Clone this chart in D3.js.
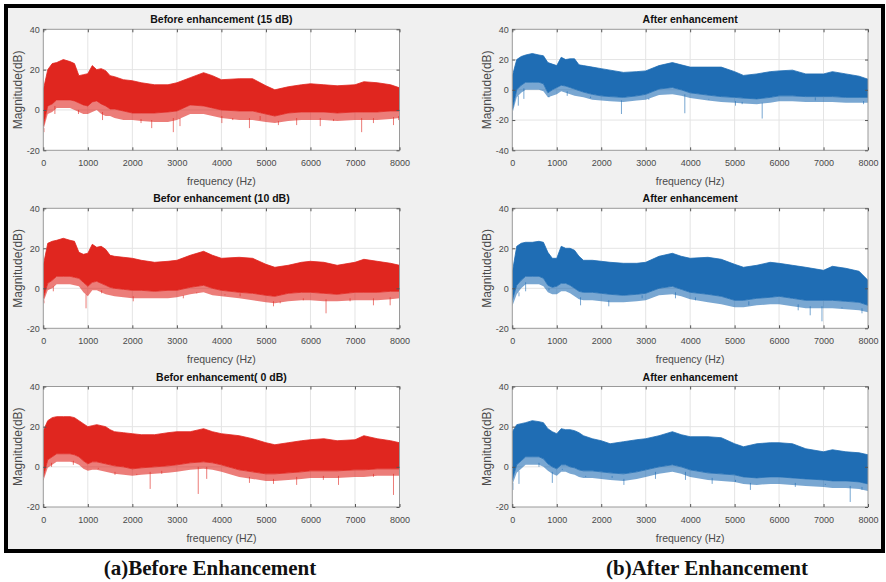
<!DOCTYPE html>
<html>
<head>
<meta charset="UTF-8">
<title>Spectrum before / after enhancement</title>
<script src="https://d3js.org/d3.v7.min.js"></script>
<style>
  body { margin: 0; background: #fff; }
  .tick text { font-family: "Liberation Sans", Arial, sans-serif; font-size: 9px; fill: #4a4a4a; }
  .tick line { stroke: #555; }
  .domain { stroke: none; }
  .title { font-family: "Liberation Sans", Arial, sans-serif; font-size: 10.5px; font-weight: bold; fill: #111; }
  .xlab, .ylab { font-family: "Liberation Sans", Arial, sans-serif; fill: #4a4a4a; }
  .caption { font-family: "Liberation Serif", "Times New Roman", serif; font-size: 21px; font-weight: bold; fill: #111; }
</style>
</head>
<body>
<script>
// frequency breakpoints (Hz) at which the band edges were read
var freqGrid = [0,100,200,300,450,600,700,800,900,1000,1100,1200,1300,1400,1500,1600,1800,2000,2200,2500,
                2800,3000,3300,3600,3800,4000,4400,4700,5000,5200,5500,5800,6000,6300,6600,7000,7200,7500,7800,8000];
var xTicks = [0,1000,2000,3000,4000,5000,6000,7000,8000];
var yTicksA = [-20,0,20,40];
var yTicksB = [-40,-20,0,20,40];
var titles = ["Before enhancement (15 dB)", "After enhancement", "Befor enhancement (10 dB)", "After enhancement",
              "Befor enhancement( 0 dB)", "After enhancement"];
var xLabels = ["frequency (Hz)", "frequency (Hz)", "frequency (Hz)", "frequency (Hz)", "frequency (HZ)", "frequency (Hz)"];
var captions = ["(a)Before Enhancement", "(b)After Enhancement"];

// upper edge / lower edge of the dense band / lower edge of the lighter fringe (dB)
var before15Hi = [10,20,23,23.5,25,24,23,17,17.5,18,22,20,20.5,19.5,17,16.5,15,14.5,13.5,12.5,12.5,13.5,16,18.5,17,15,15.5,15.5,12,10,11.5,12.5,13,12.5,12,12.5,14,13.5,12.5,11];
var before15Lo = [-8,2,3,5,5,5,4.5,3.5,2.5,2,4,4.5,3,2,0.5,0.5,-0.5,-1.5,-1.5,-1.5,-1,-0.5,2.5,2,1,0,-0.5,-0.5,-2,-3,-1.5,-1,-1,-1,-1.5,-1,-1,-1,-0.5,-0.5];
var before15Floor = [-10,-2,-1,1,1,1,0,-1,-2,-2,-1,0,-2,-3,-3,-4,-5,-5,-5.5,-6,-6,-5,-2,-2,-3,-4,-5,-5,-6,-6.5,-5.5,-5,-5,-5,-5.5,-5,-5,-5,-4.5,-4];
var after15Hi = [9,20,22,23,24,23,22.5,18,17,16,21.5,20,20.5,20.5,16.5,16,15,14,13,11.5,12,12.5,16,18,16.5,15,15,15,12,9.5,10.5,12,12.5,13,10.5,10.5,12,10.5,9,7];
var after15Lo = [-13,0,3,5,5,5,4,-2,0,1.5,3,2.5,1.5,0.5,-0.5,-1.5,-3,-4,-4.5,-5,-4,-3,0.5,1.5,0,-2,-3.5,-4.5,-5,-5.5,-6,-5,-4,-4,-4.5,-4.5,-4.5,-5,-5,-5];
var after15Floor = [-16,-5,-2,0,0,0,-1,-5,-4,-3,-1,-2,-3,-4,-4.5,-5,-6.5,-7,-7.5,-8,-7,-6.5,-3.5,-3,-4,-5.5,-7,-8,-8.5,-9,-9.5,-8.5,-7.5,-7.5,-8,-8,-8,-8.5,-8.5,-8.5];
var before10Hi = [11.5,22.5,23.5,24,25,24,23.5,18,17,17.5,22,20.5,21,19.5,16.5,16,15.5,15,14,13,13.5,14,16.5,18.5,16.5,15,15.5,15,12,10.5,11.5,13,13.5,13,11.5,13,14.5,13.5,12.5,11.5];
var before10Lo = [-5,2.5,4,6,6,6,5.5,5,3,1,3,3.5,2.5,1.5,0.5,0,-0.5,-1,-1,-1.5,-1,-1,0.5,1.5,0,-1,-2,-2.5,-3.5,-4,-2.5,-2,-2,-2.5,-3,-2,-2,-2,-1.5,-1.5];
var before10Floor = [-7,-1,0,2,2,2,1.5,1,-2,-4,-1,-1,-2,-3,-3.5,-4,-4.5,-5,-5,-5,-5,-4.5,-3,-2,-3.5,-4,-5,-6,-7,-7.5,-6.5,-6,-6,-6.5,-6.5,-6,-6,-6,-5.5,-5];
var after10Hi = [8,21,22.5,23,23,23.5,23,18,15,15,21,20,20,19,16,14,14,13.5,13,12.5,12.5,13,16,17.5,16,15,15.5,14.5,12,10.5,11.5,13,12.5,11.5,10.5,9,11,10,8.5,4];
var after10Lo = [-6,1.5,4,6,6,6,5,1.5,0.5,1,2.5,2.5,1.5,0,-1.5,-2,-2,-2.5,-3,-3.5,-3,-2.5,0,1,-0.5,-2,-3,-4,-6,-6,-5,-4.5,-4,-5,-6,-6,-6,-6.5,-7,-8.5];
var after10Floor = [-9,-3,0,2,2,2,1,-2,-3,-3,-1.5,-1.5,-2.5,-4,-5.5,-6,-6,-6.5,-7,-7,-6.5,-6,-3.5,-3,-4,-5.5,-7,-8,-9.5,-9.5,-8.5,-8,-8,-9,-10,-10,-10,-10.5,-11,-12];
var before0Hi = [18,23,24.5,25,25,25,24.5,23,21.5,20,20.5,21,20.5,20,18.5,17.5,17,16.5,16,16,17,17.5,17.5,19,17.5,16.5,15.5,14,12,11,12,13,13.5,14,13,13.5,15.5,14,13,12];
var before0Lo = [-5,3.5,5,6.5,6.5,6.5,6,5,3,1.5,2.5,2.5,2,1.5,1,0.5,0,-1,-0.5,0,0.5,1,2,2.5,2,1,-1.5,-2.5,-3.5,-3.5,-3,-2.5,-2,-2,-2,-1.5,-1.5,-1,-1,-1];
var before0Floor = [-7,-0.5,1,2.5,2.5,2.5,2,1,-1,-2,-1.5,-1.5,-2,-2.5,-3,-3.5,-4,-4.5,-4,-3.5,-3,-2.5,-1.5,-1,-1.5,-2.5,-5,-6,-7,-7,-6.5,-6,-5.5,-5.5,-5.5,-5,-5,-4.5,-4.5,-4.5];
var after0Hi = [17.5,21,21.5,22,23,22.5,22,19,17.5,16.5,19,18.5,18.5,18,17,15.5,14,13,11.5,12.5,13.5,14,15.5,17.5,16,15,15,14.5,11.5,10,11.5,12,12,11.5,9,7.5,8.5,7.5,7,6];
var after0Lo = [-6.5,1,3,5,5,5,4,1.5,0,-1,1,1,0,-0.5,-1.5,-2,-2,-2.5,-3,-3.5,-2.5,-1.5,0,1,0,-1.5,-3,-3.5,-4,-5,-5.5,-5,-5,-5.5,-6,-6.5,-7,-7,-7.5,-8.5];
var after0Floor = [-9,-3,-1,1,1,1,0,-2,-3.5,-4.5,-2.5,-2.5,-3.5,-4,-5,-5.5,-5.5,-6,-6.5,-7,-6,-5,-3.5,-2.5,-3.5,-5,-6.5,-7,-7.5,-8.5,-9,-8.5,-8.5,-9,-9.5,-10,-10.5,-10.5,-11,-12];

// isolated downward spikes [Hz, dB]
var before15Dips = [[15,-11],[260,-2],[790,-2],[1330,-5],[2195,-6.5],[2435,-9],[2920,-11],[3070,-8],[4010,-6.5],[4255,-5],
                    [4630,-9],[4870,-3],[5280,-7.5],[5690,-7.5],[6220,-8],[6520,-5.5],[7150,-11],[7415,-6.5],[7865,-7.5],[7980,-5]];
var after15Dips = [[0,-20.5],[135,-10.5],[260,-6],[825,-5],[1235,-4],[1760,-4.5],[2455,-16],[3070,-6.5],[3880,-15.5],[4420,-6.5],
                   [5020,-10.5],[5170,-9.5],[5620,-19],[6290,-6.5],[6815,-5],[7415,-7.5],[7900,-9.5]];
var before10Dips = [[15,-7.5],[225,-1.5],[960,-10],[1310,-2.5],[2020,-6.5],[2320,-4],[3145,-5],[3445,-2.5],[4080,-3.5],[4420,-2.5],
                    [5170,-9],[5320,-7.5],[5840,-6],[6350,-12.5],[6890,-6.5],[7415,-8.5],[7790,-8.5]];
var after10Dips = [[15,-8],[150,-4],[300,-1.5],[825,0],[1535,-8.5],[2170,-9],[2920,-3.5],[3670,-5],[4120,-6],[5020,-8.5],
                   [5320,-6.5],[6430,-11],[6700,-13.5],[6965,-16.5],[7415,-10],[7865,-12.5]];
var before0Dips = [[0,-6.5],[185,0],[675,1],[1235,-1],[1610,-4],[2100,-4],[2400,-11],[2660,-3.5],[3480,-13.5],[3670,-6],
                   [4230,-4],[4630,-8],[5170,-8.5],[5690,-9],[6290,-6.5],[6630,-9],[7415,-5],[7865,-14]];
var after0Dips = [[15,-11.5],[150,-8.5],[600,0],[900,-8],[1125,-1],[1650,-5],[2245,-4.5],[2510,-9],[3220,-6],[3895,-6.5],
                  [4495,-8.5],[5020,-7.5],[5355,-11.5],[5920,-7.5],[6365,-10],[7040,-8.5],[7600,-17.5],[7865,-11.5]];

var red = "#e0261f", blue = "#1f6db4";

var panels = [
  {hi: before15Hi, lo: before15Lo, floor: before15Floor, dips: before15Dips, color: red,  yDom: [-20,40], yTicks: yTicksA},
  {hi: after15Hi,  lo: after15Lo,  floor: after15Floor,  dips: after15Dips,  color: blue, yDom: [-40,40], yTicks: yTicksB},
  {hi: before10Hi, lo: before10Lo, floor: before10Floor, dips: before10Dips, color: red,  yDom: [-20,40], yTicks: yTicksA},
  {hi: after10Hi,  lo: after10Lo,  floor: after10Floor,  dips: after10Dips,  color: blue, yDom: [-20,40], yTicks: yTicksA},
  {hi: before0Hi,  lo: before0Lo,  floor: before0Floor,  dips: before0Dips,  color: red,  yDom: [-20,40], yTicks: yTicksA},
  {hi: after0Hi,   lo: after0Lo,   floor: after0Floor,   dips: after0Dips,   color: blue, yDom: [-20,40], yTicks: yTicksA}
];

var colX = [[43.3, 399.5], [512.3, 868]];
var rowY = [[29.3, 150.3], [208.3, 328.3], [386.5, 507]];

var svg = d3.select("body").append("svg")
    .attr("width", 886)
    .attr("height", 582);

// figure frame
svg.append("rect")
    .attr("x", 6).attr("y", 6).attr("width", 877).attr("height", 545)
    .attr("fill", "#f0f0f0").attr("stroke", "#000").attr("stroke-width", 4);

panels.forEach(function(p, k) {
  var c = k % 2, r = Math.floor(k / 2);
  var x0 = colX[c][0], x1 = colX[c][1], y0 = rowY[r][0], y1 = rowY[r][1];

  var x = d3.scaleLinear().domain([0, 8000]).range([x0, x1]);
  var y = d3.scaleLinear().domain(p.yDom).range([y1, y0]);

  var g = svg.append("g");

  g.append("rect")
      .attr("x", x0).attr("y", y0).attr("width", x1 - x0).attr("height", y1 - y0)
      .attr("fill", "#fff");

  // grid
  g.selectAll(".gx").data(xTicks.slice(1, -1)).enter().append("line")
      .attr("x1", function(d) { return x(d); }).attr("x2", function(d) { return x(d); })
      .attr("y1", y0).attr("y2", y1)
      .attr("stroke", "#e4e4e4").attr("stroke-width", 1);
  g.selectAll(".gy").data(p.yTicks.slice(1, -1)).enter().append("line")
      .attr("y1", function(d) { return y(d); }).attr("y2", function(d) { return y(d); })
      .attr("x1", x0).attr("x2", x1)
      .attr("stroke", "#e4e4e4").attr("stroke-width", 1);

  var clipId = "clip" + k;
  g.append("clipPath").attr("id", clipId).append("rect")
      .attr("x", x0).attr("y", y0).attr("width", x1 - x0).attr("height", y1 - y0);

  var band = freqGrid.map(function(f, i) { return {f: f, hi: p.hi[i], lo: p.lo[i], fl: p.floor[i]}; });

  var core = d3.area()
      .x(function(d) { return x(d.f); })
      .y0(function(d) { return y(d.lo); })
      .y1(function(d) { return y(d.hi); });
  var fringe = d3.area()
      .x(function(d) { return x(d.f); })
      .y0(function(d) { return y(d.fl); })
      .y1(function(d) { return y(d.lo); });

  var plot = g.append("g").attr("clip-path", "url(#" + clipId + ")");

  plot.selectAll(".dip").data(p.dips).enter().append("line")
      .attr("x1", function(d) { return x(d[0]); })
      .attr("x2", function(d) { return x(d[0]); })
      .attr("y1", function(d) {
        var i = d3.minIndex(freqGrid, function(gf) { return Math.abs(gf - d[0]); });
        return y(p.floor[i] + 1);
      })
      .attr("y2", function(d) { return y(d[1]); })
      .attr("stroke", p.color).attr("stroke-width", 1).attr("opacity", 0.6);

  plot.append("path")
      .datum(band)
      .attr("d", fringe)
      .attr("fill", p.color)
      .attr("fill-opacity", 0.6);

  plot.append("path")
      .datum(band)
      .attr("d", core)
      .attr("fill", p.color)
      .attr("stroke", p.color).attr("stroke-width", 0.8);

  // box
  g.append("rect")
      .attr("x", x0).attr("y", y0).attr("width", x1 - x0).attr("height", y1 - y0)
      .attr("fill", "none").attr("stroke", "#9a9a9a").attr("stroke-width", 1);

  // axes, ticks pointing inwards like matlab
  g.append("g").attr("transform", "translate(0," + y1 + ")")
      .call(d3.axisBottom(x).tickValues(xTicks).tickSize(-3).tickSizeOuter(0).tickPadding(9.5)
            .tickFormat(function(d) { return String(d); }));
  g.append("g").attr("transform", "translate(0," + y0 + ")")
      .call(d3.axisTop(x).tickValues(xTicks).tickSize(-3).tickSizeOuter(0).tickFormat(""));
  g.append("g").attr("transform", "translate(" + x0 + ",0)")
      .call(d3.axisLeft(y).tickValues(p.yTicks).tickSize(-3).tickSizeOuter(0).tickPadding(3.5)
            .tickFormat(function(d) { return String(d); }));
  g.append("g").attr("transform", "translate(" + x1 + ",0)")
      .call(d3.axisRight(y).tickValues(p.yTicks).tickSize(-3).tickSizeOuter(0).tickFormat(""));

  g.append("text").attr("class", "title")
      .attr("x", (x0 + x1) / 2).attr("y", y0 - 6)
      .attr("text-anchor", "middle")
      .text(titles[k]);

  g.append("text").attr("class", "xlab")
      .attr("x", (x0 + x1) / 2).attr("y", y1 + 35)
      .attr("text-anchor", "middle")
      .style("font-size", "10.5px")
      .text(xLabels[k]);

  g.append("text").attr("class", "ylab")
      .attr("transform", "translate(" + (x0 - 21) + "," + ((y0 + y1) / 2) + ") rotate(-90)")
      .attr("text-anchor", "middle")
      .style("font-size", "12px")
      .text("Magnitude(dB)");
});

svg.selectAll(".caption").data(captions).enter().append("text")
    .attr("class", "caption")
    .attr("x", function(d, i) { return i === 0 ? 210 : 707; })
    .attr("y", 575)
    .attr("text-anchor", "middle")
    .text(function(d) { return d; });
</script>
</body>
</html>
